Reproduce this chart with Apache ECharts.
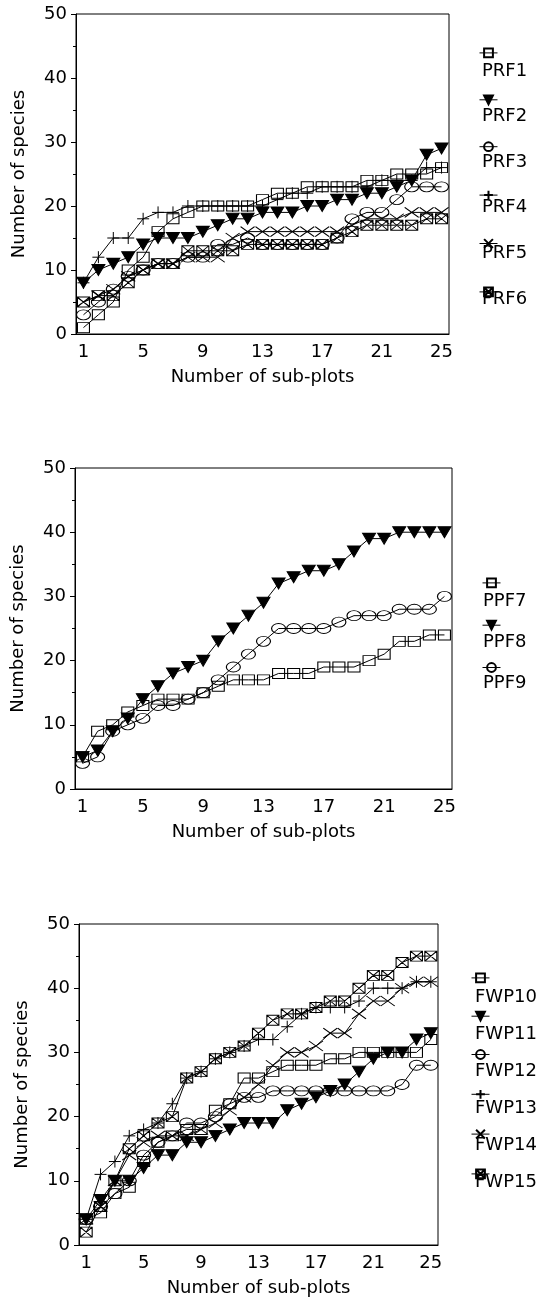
<!DOCTYPE html>
<html>
<head>
<meta charset="utf-8">
<title>Species accumulation curves</title>
<script src="https://cdn.jsdelivr.net/npm/echarts@6/dist/echarts.min.js"></script>
<style>
  html, body { margin: 0; padding: 0; background: #fff; }
  #chart { width: 543px; height: 1302px; }
</style>
</head>
<body>
<div id="chart"></div>
<script>
// x categories: number of sub-plots
const subPlots = ['1','2','3','4','5','6','7','8','9','10','11','12','13',
  '14','15','16','17','18','19','20','21','22','23','24','25'];

// panel 1
const PRF1 = [1,3,5,10,12,16,18,19,20,20,20,20,21,22,22,23,23,23,23,24,24,25,25,25,26];
const PRF2 = [8,10,11,12,14,15,15,15,16,17,18,18,19,19,19,20,20,21,21,22,22,23,24,28,29];
const PRF3 = [3,5,7,9,10,11,11,12,12,14,14,15,14,14,14,14,14,15,18,19,19,21,23,23,23];
const PRF4 = [8,12,15,15,18,19,19,20,20,20,20,20,20,21,22,22,23,23,23,23,24,24,24,26,26];
const PRF5 = [5,6,7,9,10,11,11,12,12,12,15,16,16,16,16,16,16,16,17,18,18,18,19,19,19];
const PRF6 = [5,6,6,8,10,11,11,13,13,13,13,14,14,14,14,14,14,15,16,17,17,17,17,18,18];

// panel 2
const PPF7 = [5,9,10,12,13,14,14,14,15,16,17,17,17,18,18,18,19,19,19,20,21,23,23,24,24];
const PPF8 = [5,6,9,11,14,16,18,19,20,23,25,27,29,32,33,34,34,35,37,39,39,40,40,40,40];
const PPF9 = [4,5,9,10,11,13,13,14,15,17,19,21,23,25,25,25,25,26,27,27,27,28,28,28,30];

// panel 3
const FWP10 = [4,5,8,9,13,16,17,18,18,21,22,26,26,27,28,28,28,29,29,30,30,30,30,30,32];
const FWP11 = [4,7,10,10,12,14,14,16,16,17,18,19,19,19,21,22,23,24,25,27,29,30,30,32,33];
const FWP12 = [4,6,8,10,14,16,17,19,19,20,22,23,23,24,24,24,24,24,24,24,24,24,25,28,28];
const FWP13 = [4,11,13,17,18,19,22,26,27,29,30,31,32,32,34,36,37,37,37,38,40,40,40,41,41];
const FWP14 = [4,6,10,14,16,17,17,17,18,19,21,23,25,28,30,30,31,33,33,36,38,38,40,41,41];
const FWP15 = [2,6,10,15,17,19,20,26,27,29,30,31,33,35,36,36,37,38,38,40,42,42,44,45,45];

const FONT = 'DejaVu Sans';

// marker shapes, same order on every panel
const markers = [
  { symbol: 'rect', size: [12, 10], fill: 'none' },
  { symbol: 'path://M0,0 L12,0 L6,10 Z', size: [13, 11], fill: '#000' },
  { symbol: 'circle', size: [14, 10], fill: 'none' },
  { symbol: 'path://M0,6 L12,6 M6,0 L6,12', size: [12, 12], fill: 'none' },
  { symbol: 'path://M0,0 L14,10 M14,0 L0,10', size: [14, 10], fill: 'none' },
  { symbol: 'path://M0,0 L12,0 L12,10 L0,10 Z M0,0 L12,10 M12,0 L0,10', size: [12, 10], fill: 'none' }
];

// legend: icon row and name row are two legends stacked
const panels = [
  { names: ['PRF1','PRF2','PRF3','PRF4','PRF5','PRF6'], data: [PRF1, PRF2, PRF3, PRF4, PRF5, PRF6],
    grid: { left: 76, top: 14, width: 373, height: 320 },
    icons: { left: 474, top: 41, gap: 34.6 },
    texts: { left: 472, top: 57, gap: 27.6 } },
  { names: ['PPF7','PPF8','PPF9'], data: [PPF7, PPF8, PPF9],
    grid: { left: 75, top: 468, width: 377, height: 321 },
    icons: { left: 477, top: 571, gap: 30 },
    texts: { left: 473, top: 587, gap: 23 } },
  { names: ['FWP10','FWP11','FWP12','FWP13','FWP14','FWP15'], data: [FWP10, FWP11, FWP12, FWP13, FWP14, FWP15],
    grid: { left: 79, top: 924, width: 359, height: 321 },
    icons: { left: 466, top: 966, gap: 26 },
    texts: { left: 465, top: 983, gap: 19 } }
];

const grids = [], xAxes = [], yAxes = [], legends = [], series = [];

panels.forEach((p, i) => {
  grids.push(Object.assign({ show: true, borderColor: '#000', borderWidth: 1 }, p.grid));
  xAxes.push({
    type: 'category',
    gridIndex: i,
    data: subPlots,
    boundaryGap: true,
    name: 'Number of sub-plots',
    nameLocation: 'middle',
    nameGap: 34,
    nameTextStyle: { fontFamily: FONT, fontSize: 18, color: '#000' },
    axisLine: { lineStyle: { color: '#000', width: 1 } },
    axisTick: { alignWithLabel: true, interval: 0, length: 3, lineStyle: { color: '#000' } },
    axisLabel: { interval: 3, margin: 9, fontFamily: FONT, fontSize: 18, color: '#000' },
    splitLine: { show: false }
  });
  yAxes.push({
    type: 'value',
    gridIndex: i,
    min: 0,
    max: 50,
    interval: 10,
    name: 'Number of species',
    nameLocation: 'middle',
    nameGap: 48,
    nameTextStyle: { fontFamily: FONT, fontSize: 18, color: '#000' },
    axisLine: { show: true, lineStyle: { color: '#000', width: 1 } },
    axisTick: { show: true, length: 5, lineStyle: { color: '#000' } },
    minorTick: { show: true, splitNumber: 2, length: 3, lineStyle: { color: '#000' } },
    axisLabel: { margin: 9, fontFamily: FONT, fontSize: 18, color: '#000' },
    splitLine: { show: false }
  });
  // symbols only
  legends.push({
    orient: 'vertical',
    left: p.icons.left,
    top: p.icons.top,
    itemGap: p.icons.gap,
    itemWidth: 18,
    itemHeight: 11,
    selectedMode: false,
    formatter: () => '',
    textStyle: { fontSize: 11, lineHeight: 11 },
    lineStyle: { color: '#000', width: 1 },
    data: p.names
  });
  // names only
  legends.push({
    orient: 'vertical',
    left: p.texts.left,
    top: p.texts.top,
    itemGap: p.texts.gap,
    itemWidth: 0,
    itemHeight: 18,
    icon: 'none',
    selectedMode: false,
    textStyle: { fontFamily: FONT, fontSize: 18, lineHeight: 18, color: '#000' },
    data: p.names
  });
  p.names.forEach((name, k) => {
    const m = markers[k];
    series.push({
      name: name,
      type: 'line',
      xAxisIndex: i,
      yAxisIndex: i,
      data: p.data[k],
      symbol: m.symbol,
      symbolSize: m.size,
      showSymbol: true,
      showAllSymbol: true,
      itemStyle: { color: m.fill, borderColor: '#000', borderWidth: 1 },
      lineStyle: { color: '#000', width: 1 },
      emphasis: { disabled: true },
      z: 2 + k
    });
  });
});

const chart = echarts.init(document.getElementById('chart'));
chart.setOption({
  animation: false,
  backgroundColor: '#fff',
  grid: grids,
  xAxis: xAxes,
  yAxis: yAxes,
  legend: legends,
  series: series
});
</script>
</body>
</html>
